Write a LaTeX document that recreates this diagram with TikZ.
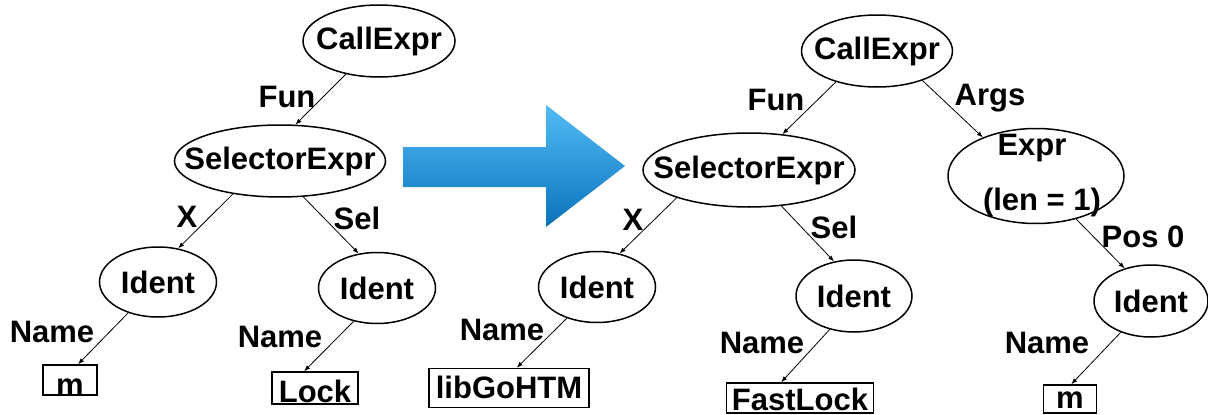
\documentclass[tikz,border=0pt]{standalone}
\usepackage{fontspec}
\setmainfont{Liberation Sans}
\usetikzlibrary{arrows.meta,shapes.geometric}

\definecolor{arrowtop}{HTML}{52BBF6}
\definecolor{arrowbot}{HTML}{0A72BA}

\newcommand{\nd}[1]{\makebox[0pt]{#1}}

\tikzset{
  treefont/.style={font=\bfseries\fontsize{31}{37}\selectfont},
  tnode/.style={draw, ellipse, line width=1.5pt, inner sep=0pt, treefont},
  leaf/.style={draw, rectangle, line width=1.5pt, inner sep=0pt, text depth=0pt, treefont},
  lbl/.style={inner sep=0pt, treefont},
  link/.style={line width=0.8pt, -{Latex[length=6pt,width=4.5pt]}}
}

\begin{document}
\begin{tikzpicture}[x=1pt, y=-1pt]
  \useasboundingbox (0,0) rectangle (1208,415);

  % ---- big arrow between the trees ----------------
  \shade[top color=arrowtop, bottom color=arrowbot]
    (403,147) -- (546,147) -- (546,105) -- (625,166)
    -- (546,227) -- (546,187) -- (403,187) -- cycle;

  % ---- tree before --------------------------------
  \node[tnode, minimum width=152, minimum height=72] (call1) at (379,41)  {\nd{CallExpr}};
  \node[tnode, minimum width=211, minimum height=72] (sel1)  at (280,161) {\nd{SelectorExpr}};
  \node[tnode, minimum width=117, minimum height=70] (id1)   at (158,282) {\nd{Ident}};
  \node[tnode, minimum width=117, minimum height=71] (id2)   at (377,288) {\nd{Ident}};
  \node[leaf, minimum width=54, minimum height=30, text height=30pt] (m1)   at (70,380)  {m};
  \node[leaf, minimum width=86, minimum height=32, text height=28pt] (lock) at (315,388) {Lock};

  \draw[link] (call1.225) -- (sel1.67);
  \draw[link] (sel1.215)  -- (id1.59);
  \draw[link] (sel1.303)  -- (id2.118);
  \draw[link] (id1.226)   -- (m1.63);
  \draw[link] (id2.235)   -- (lock.123);

  \node[lbl] (fun1)  at (287,97)  {Fun};
  \node[lbl] (x1)    at (187,217) {X};
  \node[lbl] (sel1l) at (357,218) {Sel};
  \node[lbl] (name1) at (52,332)  {Name};
  \node[lbl] (name2) at (280,337) {Name};

  % ---- tree after ---------------------------------
  \node[tnode, minimum width=151, minimum height=72] (call2) at (877,51)   {\nd{CallExpr}};
  \node[tnode, minimum width=212, minimum height=74] (sel2)  at (749,170)  {\nd{SelectorExpr}};
  \node[tnode, minimum width=176, minimum height=95] (expr)  at (1036,176) {};
  \node[tnode, minimum width=117, minimum height=71] (id3)   at (597,287)  {\nd{Ident}};
  \node[tnode, minimum width=116, minimum height=72] (id4)   at (854,296)  {\nd{Ident}};
  \node[tnode, minimum width=114, minimum height=72] (id5)   at (1151,301) {\nd{Ident}};
  \node[lbl] (exprtop) at (1032,148) {Expr};
  \node[lbl] (exprlen) at (1042,202) {(len = 1)};

  \node[leaf, minimum width=160, minimum height=39, text height=20pt] (lib)  at (509,388)  {libGoHTM};
  \node[leaf, minimum width=147, minimum height=30, text height=25pt] (fast) at (800,398)  {FastLock};
  \node[leaf, minimum width=53,  minimum height=28, text height=18pt] (m2)   at (1070,399) {m};

  \draw[link] (call2.217) -- (sel2.47);
  \draw[link] (call2.327) -- (expr.144);
  \draw[link] (sel2.201)  -- (id3.56);
  \draw[link] (sel2.312)  -- (id4.120);
  \draw[link] (expr.313)  -- (id5.129);
  \draw[link] (id3.226)   -- (lib.69);
  \draw[link] (id4.234)   -- (fast.140);
  \draw[link] (id5.226)   -- (m2.85);

  \node[lbl] (fun2)  at (776,100)  {Fun};
  \node[lbl] (args)  at (990,98)   {Args};
  \node[lbl] (x2)    at (633,220)  {X};
  \node[lbl] (sel2l) at (834,227)  {Sel};
  \node[lbl] (pos0)  at (1143,237) {Pos 0};
  \node[lbl] (name3) at (502,330)  {Name};
  \node[lbl] (name4) at (762,343)  {Name};
  \node[lbl] (name5) at (1047,343) {Name};
\end{tikzpicture}
\end{document}
